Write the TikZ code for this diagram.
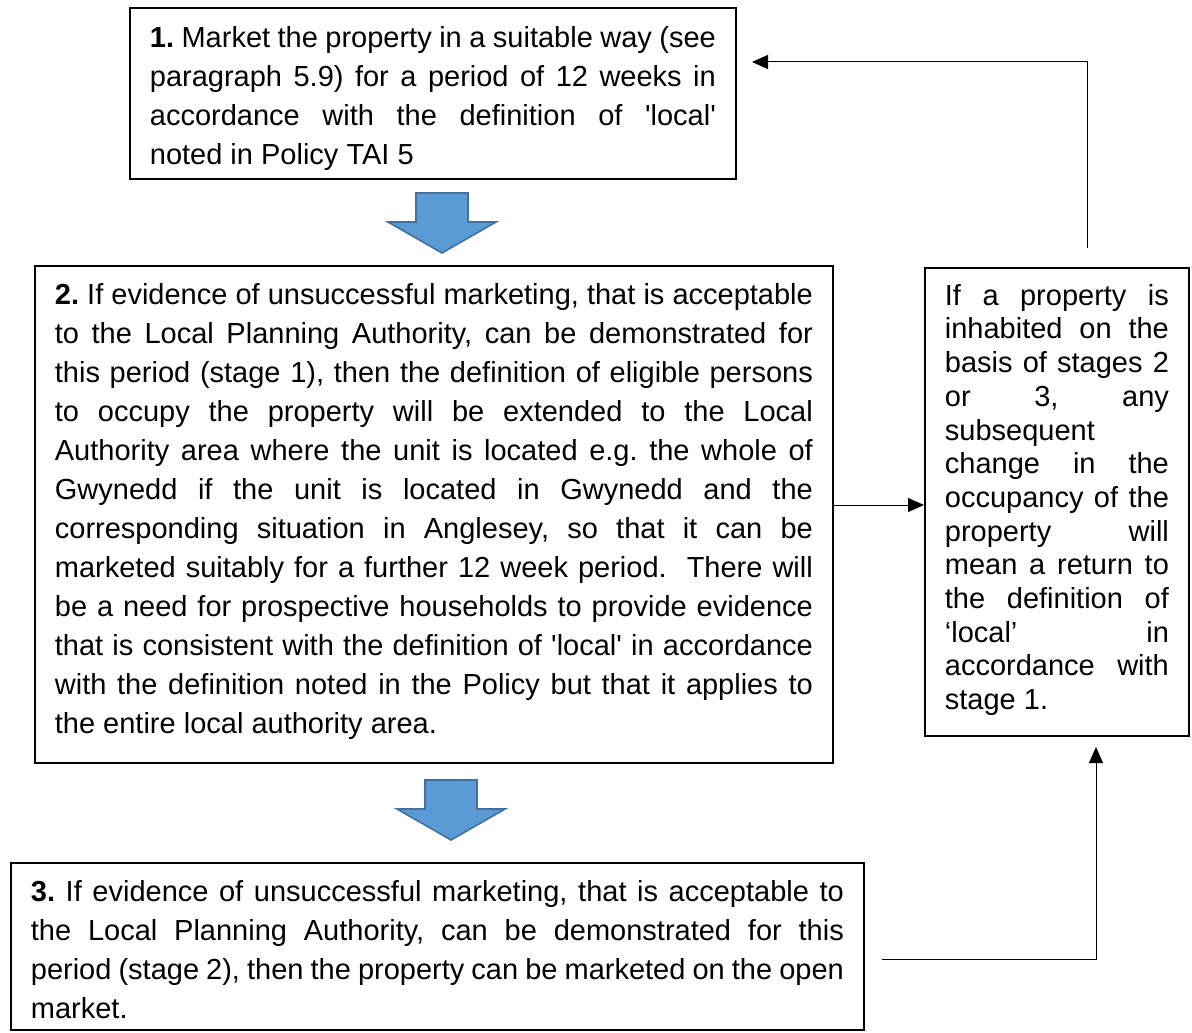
\documentclass[tikz,border=0pt]{standalone}
\usepackage{fontspec}
\setmainfont{Liberation Sans}
\usetikzlibrary{arrows.meta}
\definecolor{arrowblue}{HTML}{5B9BD5}
\definecolor{arrowedge}{HTML}{41719C}
\tolerance=10000
\hbadness=10000
\hyphenpenalty=10000
\exhyphenpenalty=10000
\frenchspacing
\tikzset{
  stagebox/.style = {draw, line width = 0.9pt, anchor = north west, align = justify,
    inner xsep = 10pt, inner ysep = 0pt, font = \fontsize{14.5pt}{19.5pt}\selectfont},
  notebox/.style = {stagebox, font = \fontsize{14.5pt}{16.85pt}\selectfont},
  link/.style = {line width = 0.5pt, -{Triangle[length = 8pt, width = 7pt]}},
  blockarrow/.style = {fill = arrowblue, draw = arrowedge, line width = 0.8pt}
}
\begin{document}
\begin{tikzpicture}[x = 0.5pt, y = -0.5pt]
\useasboundingbox (0,0) rectangle (1192,1032);
% stage boxes
\node[stagebox, text width = 283pt, minimum height = 85.5pt] (stage1) at (129,7)
  {\textbf{1.} Market the property in a suitable way (see\linebreak
  paragraph 5.9) for a period of 12 weeks in\linebreak
  accordance with the definition of \textquotesingle local\textquotesingle\linebreak
  noted in Policy TAI 5\par\kern-5pt};
\node[stagebox, text width = 379pt, minimum height = 248.5pt] (stage2) at (34,265)
  {\textbf{2.} If evidence of unsuccessful marketing, that is acceptable\linebreak
  to the Local Planning Authority, can be demonstrated for\linebreak
  this period (stage 1), then the definition of eligible persons\linebreak
  to occupy the property will be extended to the Local\linebreak
  Authority area where the unit is located e.g. the whole of\linebreak
  Gwynedd if the unit is located in Gwynedd and the\linebreak
  corresponding situation in Anglesey, so that it can be\linebreak
  marketed suitably for a further 12 week period.\ \ There will\linebreak
  be a need for prospective households to provide evidence\linebreak
  that is consistent with the definition of \textquotesingle local\textquotesingle\ in accordance\linebreak
  with the definition noted in the Policy but that it applies to\linebreak
  the entire local authority area.\par\kern3pt};
\node[stagebox, text width = 406.5pt, minimum height = 83.5pt] (stage3) at (10,862)
  {\textbf{3.} If evidence of unsuccessful marketing, that is acceptable to\linebreak
  the Local Planning Authority, can be demonstrated for this\linebreak
  period (stage 2), then the property can be marketed on the open\linebreak
  market.\par\kern-3pt};
\node[notebox, text width = 112pt, minimum height = 234pt] (return) at (924,267)
  {If a property is\linebreak inhabited on the\linebreak basis of stages 2\linebreak
  or 3, any\linebreak subsequent\linebreak change in the\linebreak
  occupancy of the\linebreak property will\linebreak mean a return to\linebreak
  the definition of\linebreak ‘local’ in\linebreak accordance with\linebreak
  stage 1.\par\kern2pt};
% block arrows
\begin{scope}[shift = {(442,193)}]
\draw[blockarrow] (-26,0) -- (26,0) -- (26,29) -- (54,29) -- (0,60) -- (-54,29) -- (-26,29) -- cycle;
\end{scope}
\begin{scope}[shift = {(451,780)}]
\draw[blockarrow] (-26,0) -- (26,0) -- (26,29) -- (54,29) -- (0,60) -- (-54,29) -- (-26,29) -- cycle;
\end{scope}
% connectors
\coordinate (backtop) at (1087,248);
\coordinate (back1) at (752,62);
\coordinate (mid2) at (0,505);
\coordinate (out3) at (882,959);
\coordinate (backbottom) at (1096,747);
\draw[link] (backtop) |- (back1);
\draw[link] (stage2.east |- mid2) -- (return.west |- mid2);
\draw[link] (out3) -| (backbottom);
\end{tikzpicture}
\end{document}
